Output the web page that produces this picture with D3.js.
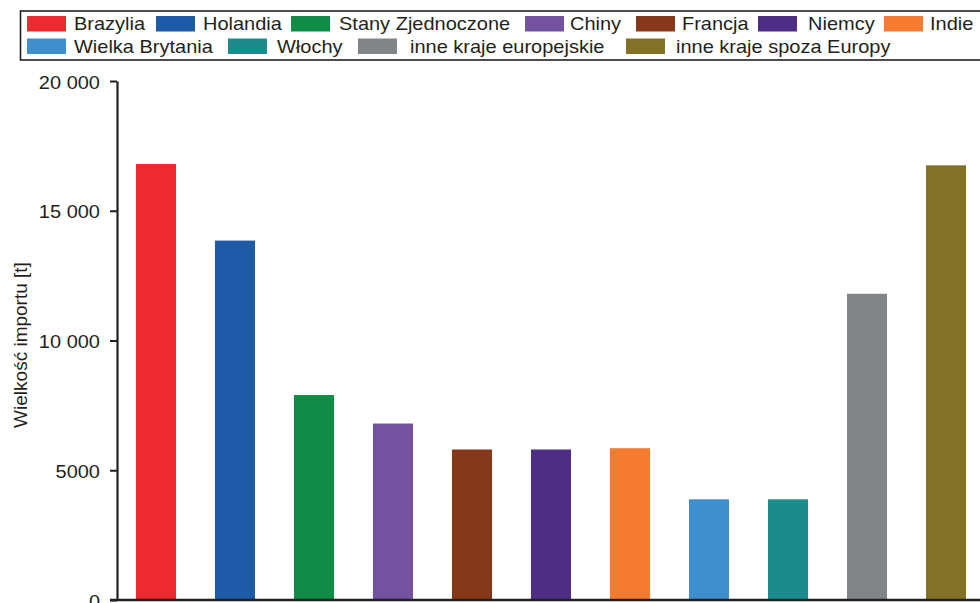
<!DOCTYPE html>
<html><head><meta charset="utf-8">
<script src="https://cdn.jsdelivr.net/npm/d3@7"></script>
<style>body{margin:0;background:#fff}svg{display:block}text{font-family:"Liberation Sans",Arial,sans-serif;fill:#231f20}</style>
</head><body>
<svg id="c" width="980" height="603"></svg>
<script>
const categories = ["Brazylia","Holandia","Stany Zjednoczone","Chiny","Francja","Niemcy","Indie","Wielka Brytania","Włochy","inne kraje europejskie","inne kraje spoza Europy"];
const values = [16800,13850,7900,6800,5800,5800,5850,3880,3880,11800,16750];
const colors = ["#ee2a30","#1f5aa6","#0f8c45","#7452a0","#86381a","#4e2d84","#f47b2f","#3f8fcf","#1a8c8c","#818588","#837226"];
const tickValues = [0,5000,10000,15000,20000];
const tickLabels = ["0","5000","10 000","15 000","20 000"];
const yTitle = "Wielkość importu [t]";
// legend layout (row, swatch x)
const legendRows = [0,0,0,0,0,0,0,1,1,1,1];
const legendX = [27,156,291,525,636,758,884,27,228,358,626];
const legendTextOff = [8,8,9,6,7,11,7,8,10,13,11];

const svg = d3.select("#c");
const x = d3.scaleBand().domain(categories).range([117, 985]).paddingInner(0.493).paddingOuter(0.24);
const y = d3.scaleLinear().domain([0,20000]).range([600,81]);

svg.selectAll("rect.bar").data(categories).join("rect").attr("class","bar")
  .attr("x", d=>x(d)).attr("width", x.bandwidth())
  .attr("y", (d,i)=>y(values[i])).attr("height",(d,i)=>y(0)-y(values[i]))
  .attr("fill",(d,i)=>colors[i]);

const yAxis = d3.axisLeft(y).tickValues(tickValues).tickSize(7).tickSizeOuter(0)
  .tickFormat((d,i)=>tickLabels[i]);
const gy = svg.append("g").attr("transform","translate(117,0)").call(yAxis);
gy.select(".domain").attr("stroke","#231f20").attr("stroke-width",2.2);
gy.selectAll(".tick line").attr("stroke","#231f20").attr("stroke-width",2);
gy.selectAll(".tick text").attr("x",null).attr("dy",null)
  .style("font-size","20px").attr("text-anchor","end")
  .attr("transform","translate(-17,7) scale(1,0.9)");

svg.append("line").attr("x1",110).attr("x2",980).attr("y1",y(0)).attr("y2",y(0))
  .attr("stroke","#231f20").attr("stroke-width",2.5);

svg.append("text").attr("transform","translate(27,345) rotate(-90)")
  .attr("text-anchor","middle").style("font-size","19px").text(yTitle);

// legend
svg.append("rect").attr("x",20.5).attr("y",11).attr("width",962).attr("height",49)
  .attr("fill","none").attr("stroke","#231f20").attr("stroke-width",1.6);
const lg = svg.selectAll("g.li").data(categories).join("g").attr("class","li")
  .attr("transform",(d,i)=>`translate(${legendX[i]},${16+legendRows[i]*22.5})`);
lg.append("rect").attr("width",39).attr("height",15.5).attr("fill",(d,i)=>colors[i]);
lg.append("text").attr("transform",(d,i)=>`translate(${39+legendTextOff[i]},14) scale(1,0.9)`)
  .style("font-size","20px").text(d=>d);
</script>
</body></html>
